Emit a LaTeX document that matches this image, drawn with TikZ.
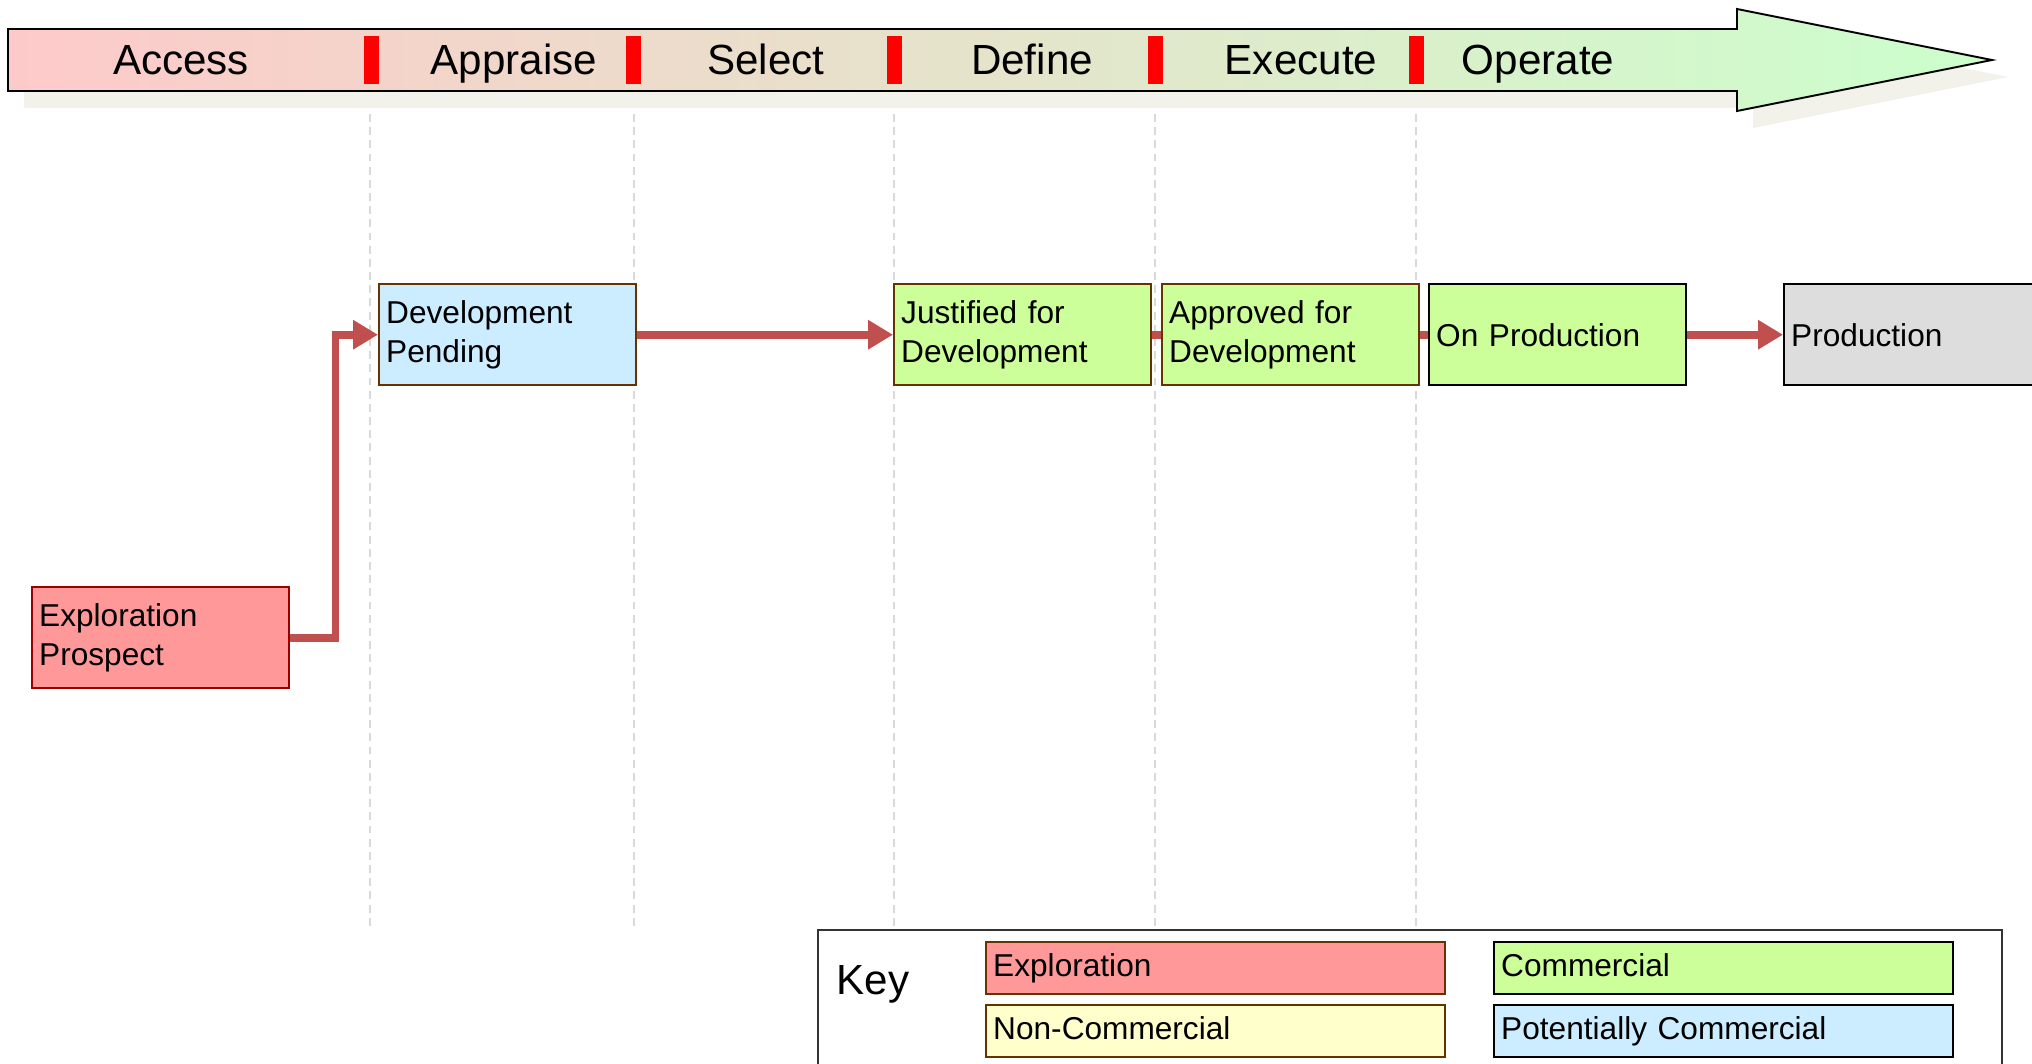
\documentclass[tikz,border=0pt]{standalone}
\usepackage{fontspec}
\setmainfont{Liberation Sans}
\usetikzlibrary{arrows.meta}
\definecolor{explfill}{HTML}{FF9999}
\definecolor{explline}{HTML}{990000}
\definecolor{potfill}{HTML}{CCECFF}
\definecolor{comfill}{HTML}{CCFF99}
\definecolor{nonfill}{HTML}{FFFFCC}
\definecolor{prodfill}{HTML}{DDDDDD}
\definecolor{brownline}{HTML}{663300}
\definecolor{flowred}{HTML}{C0504D}
\definecolor{lanegray}{HTML}{D9D9D9}
\definecolor{shadowgray}{HTML}{F2F1EA}
\definecolor{hdrleft}{HTML}{FDCACA}
\definecolor{hdrright}{HTML}{CCFFCC}
\begin{document}
\begin{tikzpicture}[x=0.02cm,y=-0.02cm,
  stage/.style={draw, line width=1.4pt, anchor=north west, align=left,
    inner xsep=0.14cm, minimum height=2.02cm, text width=4.86cm,
    font=\fontsize{18}{22}\selectfont},
  keybox/.style={stage, minimum height=1.04cm, text width=8.9cm,
    text height=13pt, text depth=4pt},
  flow/.style={draw=flowred, line width=4.4pt},
  tip/.style={-{Triangle[length=0.5cm,width=0.56cm]}},
  phase/.style={font=\fontsize{24}{28}\selectfont, anchor=base},
  gate/.style={fill=red},
  lane/.style={draw=lanegray, line width=0.8pt, dash pattern=on 4.5pt off 3pt}]
\useasboundingbox (0,0) rectangle (2032,1064);

% phase arrow
\fill[shadowgray, shift={(16,17)}] (8,29) -- (1737,29) -- (1737,9) -- (1992,60)
  -- (1737,111) -- (1737,91) -- (8,91) -- cycle;
\shade[left color=hdrleft, right color=hdrright, draw=black, line width=1.1pt]
  (8,29) -- (1737,29) -- (1737,9) -- (1992,60) -- (1737,111) -- (1737,91) -- (8,91) -- cycle;

\fill[gate] (364,36) rectangle (379,84);
\fill[gate] (626,36) rectangle (641,84);
\fill[gate] (887,36) rectangle (902,84);
\fill[gate] (1148,36) rectangle (1163,84);
\fill[gate] (1409,36) rectangle (1424,84);

\node[phase] (access) at (181,75) {Access};
\node[phase] (appraise) at (514,75) {Appraise};
\node[phase] (select) at (766,75) {Select};
\node[phase] (define) at (1032,75) {Define};
\node[phase] (execute) at (1301,75) {Execute};
\node[phase] (operate) at (1538,75) {Operate};

\draw[lane] (370,114) -- (370,930);
\draw[lane] (634,114) -- (634,930);
\draw[lane] (894,114) -- (894,930);
\draw[lane] (1155,114) -- (1155,930);
\draw[lane] (1416,114) -- (1416,930);

% stages
\node[stage, fill=explfill, draw=explline] (prospect) at (31,586) {Exploration\\Prospect};
\node[stage, fill=potfill, draw=brownline] (pending) at (378,283) {Development\\Pending};
\node[stage, fill=comfill, draw=brownline] (justified) at (893,283) {Justified for\\Development};
\node[stage, fill=comfill, draw=brownline] (approved) at (1161,283) {Approved for\\Development};
\node[stage, fill=comfill] (onprod) at (1428,283) {On Production};
\node[stage, fill=prodfill, text width=5.8cm] (production) at (1783,283) {Production};

\draw[flow, tip] (prospect.east) -- ++(45,0) |- (pending.west);
\draw[flow, tip] (pending.east) -- (justified.west);
\draw[flow] (justified.east) -- (approved.west);
\draw[flow] (approved.east) -- (onprod.west);
\draw[flow, tip] (onprod.east) -- (production.west);

% key
\draw[line width=0.8pt, draw=black!80] (818,930) rectangle (2002,1090);
\node[phase] (key) at (873,994) {Key};
\node[keybox, fill=explfill, draw=brownline] (kexpl) at (985,941) {Exploration};
\node[keybox, fill=nonfill, draw=brownline] (knon) at (985,1004) {Non-Commercial};
\node[keybox, fill=comfill] (kcom) at (1493,941) {Commercial};
\node[keybox, fill=potfill] (kpot) at (1493,1004) {Potentially Commercial};
\end{tikzpicture}
\end{document}
